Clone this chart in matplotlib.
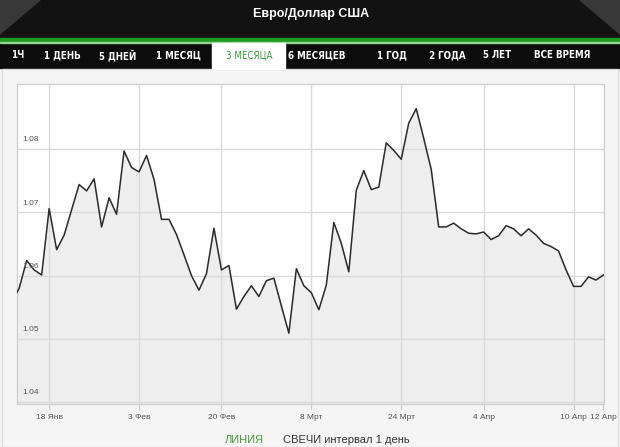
import numpy as np
import matplotlib
matplotlib.use("Agg")
import matplotlib.pyplot as plt
from matplotlib.patches import Rectangle, Polygon
from matplotlib.transforms import blended_transform_factory

# ─── Data ────────────────────────────────────────────────────────────────────

title = "Евро/Доллар США"
tabs = ["1Ч", "1 ДЕНЬ", "5 ДНЕЙ", "1 МЕСЯЦ", "3 МЕСЯЦА",
        "6 МЕСЯЦЕВ", "1 ГОД", "2 ГОДА", "5 ЛЕТ", "ВСЕ ВРЕМЯ"]
active_tab = "3 МЕСЯЦА"

# daily close EUR/USD, first point falls just outside the plot on the left
rates = [1.0558, 1.0580,
         1.0624, 1.0609, 1.0601, 1.0706, 1.0641, 1.0664, 1.0704, 1.0744,
         1.0734, 1.0753, 1.0677, 1.0723, 1.0697, 1.0797, 1.0771, 1.0764,
         1.0790, 1.0752, 1.0689, 1.0689, 1.0665, 1.0633, 1.0600, 1.0577,
         1.0603, 1.0675, 1.0609, 1.0616, 1.0547, 1.0567, 1.0584, 1.0567,
         1.0592, 1.0596, 1.0552, 1.0509, 1.0611, 1.0584, 1.0573, 1.0546,
         1.0585, 1.0684, 1.0651, 1.0606, 1.0735, 1.0766, 1.0736, 1.0740,
         1.0810, 1.0798, 1.0784, 1.0841, 1.0864, 1.0817, 1.0768, 1.0677,
         1.0677, 1.0683, 1.0674, 1.0667, 1.0666, 1.0669, 1.0657, 1.0663,
         1.0679, 1.0674, 1.0663, 1.0674, 1.0664, 1.0651, 1.0646, 1.0639,
         1.0609, 1.0583, 1.0583, 1.0598, 1.0593, 1.0601]
day_idx = np.arange(len(rates)) - 1

date_ticks = [4, 16, 27, 39, 51, 62, 74, 78]
date_labels = ["18 Янв", "3 Фев", "20 Фев", "8 Мрт", "24 Мрт", "4 Апр", "10 Апр", "12 Апр"]

y_ticks = [1.04, 1.05, 1.06, 1.07, 1.08]

# ─── Figure ──────────────────────────────────────────────────────────────────

W, H = 620, 447
fig = plt.figure(figsize=(W / 100, H / 100), dpi=100)
fig.patch.set_facecolor("#f4f4f4")

# overlay in pixel coordinates for header / footer
bg = fig.add_axes([0, 0, 1, 1])
bg.set_xlim(0, W)
bg.set_ylim(H, 0)
bg.axis("off")

bg.add_patch(Rectangle((0, 0), W, 39, color="#121212", zorder=1))
bg.add_patch(Polygon([(0, 0), (40, 0), (0, 34)], closed=True, color="#383838", zorder=1.5))
bg.add_patch(Polygon([(W, 0), (W - 40, 0), (W, 34)], closed=True, color="#383838", zorder=1.5))
bg.add_patch(Rectangle((0, 38), W, 4, color="#1f9a1f", zorder=2))
bg.add_patch(Rectangle((0, 42), W, 1.2, color="#8fd48f", zorder=2))
bg.add_patch(Rectangle((0, 43), W, 25, color="#0c0c0c", zorder=1))
bg.add_patch(Rectangle((212, 43), 73, 26, color="white", zorder=2))
bg.add_patch(Rectangle((2, 69), W - 4, H - 69, facecolor="#f5f5f5",
                       edgecolor="#dddddd", lw=1, zorder=1))

bg.text(311, 14, title, color="white", fontsize=9, fontweight="bold",
        ha="center", va="center", family=["Liberation Sans", "DejaVu Sans"], zorder=3)

tab_x = [18, 62, 118, 178, 249, 317, 392, 447, 497, 562]
for name, x in zip(tabs, tab_x):
    col = "#3a9a3a" if name == active_tab else "white"
    weight = "normal" if name == active_tab else "bold"
    bg.text(x, 55.5, name, color=col, fontsize=7, fontweight=weight,
            fontstretch="condensed", ha="center", va="center",
            family="DejaVu Sans", zorder=3)

bg.text(264, 440, "ЛИНИЯ", color="#4c9c3c", fontsize=8, ha="right", va="center",
        family=["Liberation Sans", "DejaVu Sans"])
bg.text(283, 440, "СВЕЧИ интервал 1 день", color="#333333", fontsize=8,
        ha="left", va="center", family=["Liberation Sans", "DejaVu Sans"])

# ─── Chart ───────────────────────────────────────────────────────────────────

left, right, top, bottom = 17, 603.5, 84, 404
ax = fig.add_axes([left / W, 1 - bottom / H, (right - left) / W, (bottom - top) / H])
ax.set_facecolor("white")
ax.set_xlim(-0.29, 78)
ax.set_ylim(1.0397, 1.0903)

ax.fill_between(day_idx, rates, 1.0397, color="#eeeeee", zorder=1)
ax.plot(day_idx, rates, color="#2b2b2b", lw=1.1, zorder=4)

for v in y_ticks:
    ax.axhline(v, color="#dadada", lw=1, zorder=2)
for d in date_ticks[:-1]:
    ax.axvline(d, color="#dadada", lw=1, zorder=2)

trans = blended_transform_factory(ax.transAxes, ax.transData)
for v in y_ticks:
    ax.text(0.009, v + 0.00145, f"{v:.2f}", transform=trans, fontsize=6,
            color="#555555", ha="left", va="center",
            family=["Liberation Sans", "DejaVu Sans"], zorder=5)

ax.set_yticks([])
ax.set_xticks(date_ticks)
ax.set_xticklabels(date_labels, fontsize=6, color="#555555",
                   family=["Liberation Sans", "DejaVu Sans"])
ax.tick_params(axis="x", length=4, color="#cccccc", pad=3)

for s in ax.spines.values():
    s.set_color("#d0d0d0")
    s.set_linewidth(1)

fig.savefig("out.png", dpi=100, facecolor=fig.get_facecolor())
